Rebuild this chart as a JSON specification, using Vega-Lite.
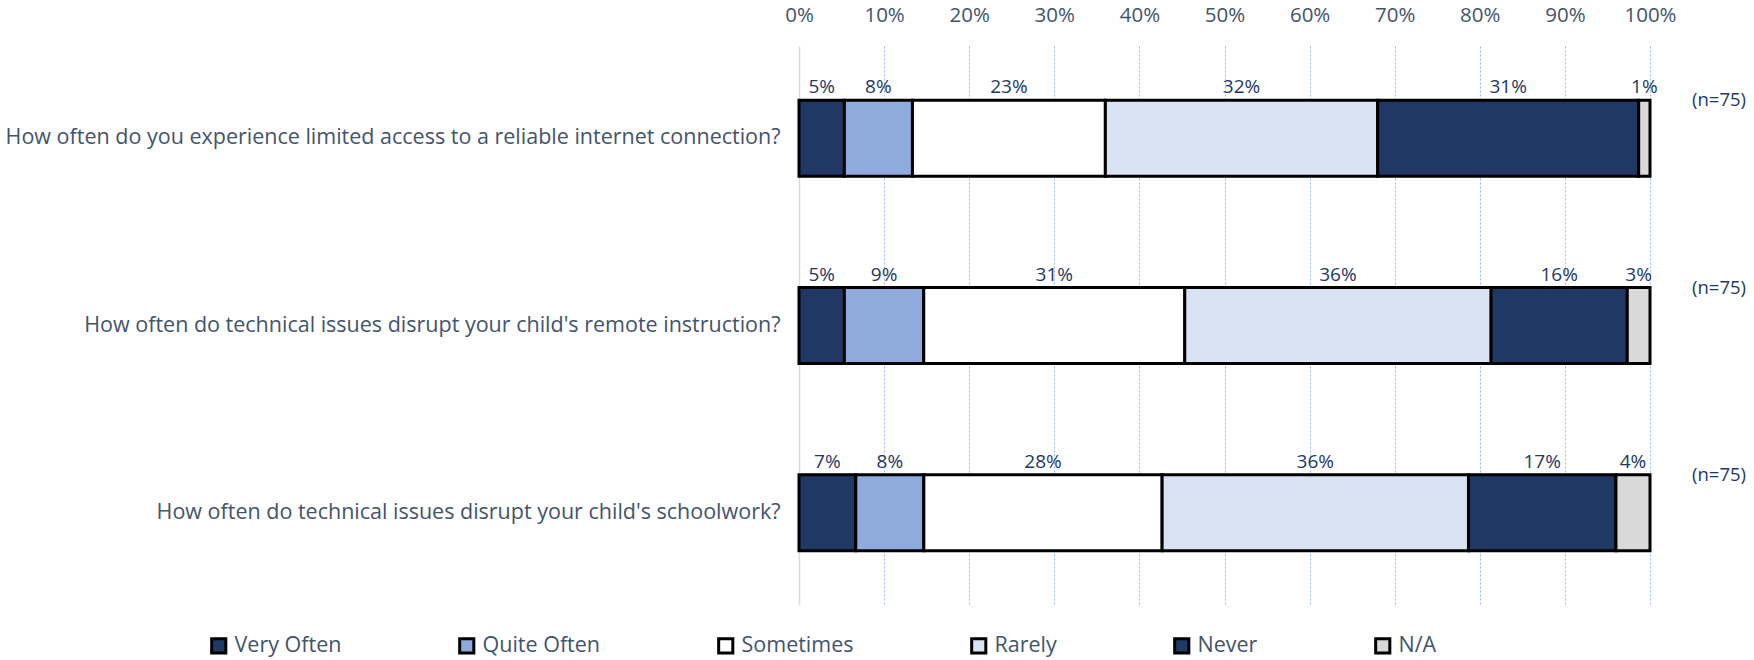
{
  "$schema": "https://vega.github.io/schema/vega-lite/v6.json",
  "autosize": {"type": "none"},
  "padding": {"left": 799, "top": 46, "right": 104, "bottom": 55},
  "width": 851,
  "height": 559,
  "background": "white",
  "config": {
    "view": {"stroke": null},
    "font": "Open Sans",
    "text": {"font": "Open Sans"}
  },
  "datasets": {
    "resp": [
      {"question": "How often do you experience limited access to a reliable internet connection?", "category": "Very Often", "k": 1, "pct": 0.0533},
      {"question": "How often do you experience limited access to a reliable internet connection?", "category": "Quite Often", "k": 2, "pct": 0.08},
      {"question": "How often do you experience limited access to a reliable internet connection?", "category": "Sometimes", "k": 3, "pct": 0.2267},
      {"question": "How often do you experience limited access to a reliable internet connection?", "category": "Rarely", "k": 4, "pct": 0.32},
      {"question": "How often do you experience limited access to a reliable internet connection?", "category": "Never", "k": 5, "pct": 0.3067},
      {"question": "How often do you experience limited access to a reliable internet connection?", "category": "N/A", "k": 6, "pct": 0.0133},
      {"question": "How often do technical issues disrupt your child's remote instruction?", "category": "Very Often", "k": 1, "pct": 0.0533},
      {"question": "How often do technical issues disrupt your child's remote instruction?", "category": "Quite Often", "k": 2, "pct": 0.0933},
      {"question": "How often do technical issues disrupt your child's remote instruction?", "category": "Sometimes", "k": 3, "pct": 0.3067},
      {"question": "How often do technical issues disrupt your child's remote instruction?", "category": "Rarely", "k": 4, "pct": 0.36},
      {"question": "How often do technical issues disrupt your child's remote instruction?", "category": "Never", "k": 5, "pct": 0.16},
      {"question": "How often do technical issues disrupt your child's remote instruction?", "category": "N/A", "k": 6, "pct": 0.0267},
      {"question": "How often do technical issues disrupt your child's schoolwork?", "category": "Very Often", "k": 1, "pct": 0.0667},
      {"question": "How often do technical issues disrupt your child's schoolwork?", "category": "Quite Often", "k": 2, "pct": 0.08},
      {"question": "How often do technical issues disrupt your child's schoolwork?", "category": "Sometimes", "k": 3, "pct": 0.28},
      {"question": "How often do technical issues disrupt your child's schoolwork?", "category": "Rarely", "k": 4, "pct": 0.36},
      {"question": "How often do technical issues disrupt your child's schoolwork?", "category": "Never", "k": 5, "pct": 0.1733},
      {"question": "How often do technical issues disrupt your child's schoolwork?", "category": "N/A", "k": 6, "pct": 0.04}
    ],
    "counts": [
      {"question": "How often do you experience limited access to a reliable internet connection?", "n": "(n=75)"},
      {"question": "How often do technical issues disrupt your child's remote instruction?", "n": "(n=75)"},
      {"question": "How often do technical issues disrupt your child's schoolwork?", "n": "(n=75)"}
    ]
  },
  "encoding": {
    "y": {
      "field": "question",
      "type": "nominal",
      "sort": [
        "How often do you experience limited access to a reliable internet connection?",
        "How often do technical issues disrupt your child's remote instruction?",
        "How often do technical issues disrupt your child's schoolwork?"
      ],
      "scale": {"paddingInner": 0.594, "paddingOuter": 0.29, "align": 0.5},
      "axis": {
        "title": null,
        "domain": false,
        "ticks": false,
        "labelFontSize": 21.5,
        "labelColor": "#44546A",
        "labelPadding": 19,
        "labelLimit": 1000,
        "labelFont": "Open Sans"
      }
    }
  },
  "layer": [
    {
      "data": {"name": "resp"},
      "transform": [
        {"stack": "pct", "groupby": ["question"], "sort": [{"field": "k", "order": "ascending"}], "as": ["x0", "x1"]}
      ],
      "mark": {"type": "bar", "stroke": "black", "strokeWidth": 3},
      "encoding": {
        "x": {
          "field": "x0",
          "type": "quantitative",
          "scale": {"domain": [0, 1], "nice": false},
          "axis": {
            "orient": "top",
            "title": null,
            "format": ".0%",
            "values": [0, 0.1, 0.2, 0.3, 0.4, 0.5, 0.6, 0.7, 0.8, 0.9, 1],
            "domain": false,
            "ticks": false,
            "labelFont": "Open Sans",
            "labelFontSize": 20.5,
            "labelColor": "#44546A",
            "labelPadding": 21,
            "labelFlush": false,
            "grid": true,
            "gridColor": {"condition": {"test": "datum.value === 0", "value": "#D6DCE5"}, "value": "#9DB5E0"},
            "gridDash": {"condition": {"test": "datum.value === 0", "value": []}, "value": [2, 2]},
            "gridWidth": {"condition": {"test": "datum.value === 0", "value": 1.5}, "value": 1}
          }
        },
        "x2": {"field": "x1"},
        "color": {
          "field": "category",
          "type": "nominal",
          "scale": {
            "domain": ["Very Often", "Quite Often", "Sometimes", "Rarely", "Never", "N/A"],
            "range": ["#203864", "#8FAADC", "#FFFFFF", "#DAE3F3", "#203864", "#D9D9D9"]
          },
          "legend": {
            "title": null,
            "orient": "none",
            "direction": "horizontal",
            "columns": 6,
            "legendX": -591,
            "legendY": 589,
            "symbolType": "square",
            "symbolSize": 200,
            "symbolStrokeColor": "black",
            "symbolStrokeWidth": 3,
            "symbolOpacity": 1,
            "labelFontSize": 21.5,
            "labelColor": "#44546A",
            "labelFont": "Open Sans",
            "labelOffset": 5,
            "columnPadding": 111,
            "labelLimit": 300
          }
        }
      }
    },
    {
      "data": {"name": "resp"},
      "transform": [
        {"stack": "pct", "groupby": ["question"], "sort": [{"field": "k", "order": "ascending"}], "as": ["x0", "x1"]},
        {"calculate": "(datum.x0 + datum.x1) / 2", "as": "xm"}
      ],
      "mark": {"type": "text", "fontSize": 19, "color": "#1F3864", "dy": -51, "baseline": "middle", "align": "center"},
      "encoding": {
        "x": {"field": "xm", "type": "quantitative"},
        "text": {"field": "pct", "type": "quantitative", "format": ".0%"}
      }
    },
    {
      "data": {"name": "counts"},
      "mark": {"type": "text", "fontSize": 18.5, "color": "#1F3864", "dx": 69, "dy": -38, "baseline": "middle", "align": "center"},
      "encoding": {
        "x": {"datum": 1, "type": "quantitative"},
        "text": {"field": "n", "type": "nominal"}
      }
    }
  ]
}
